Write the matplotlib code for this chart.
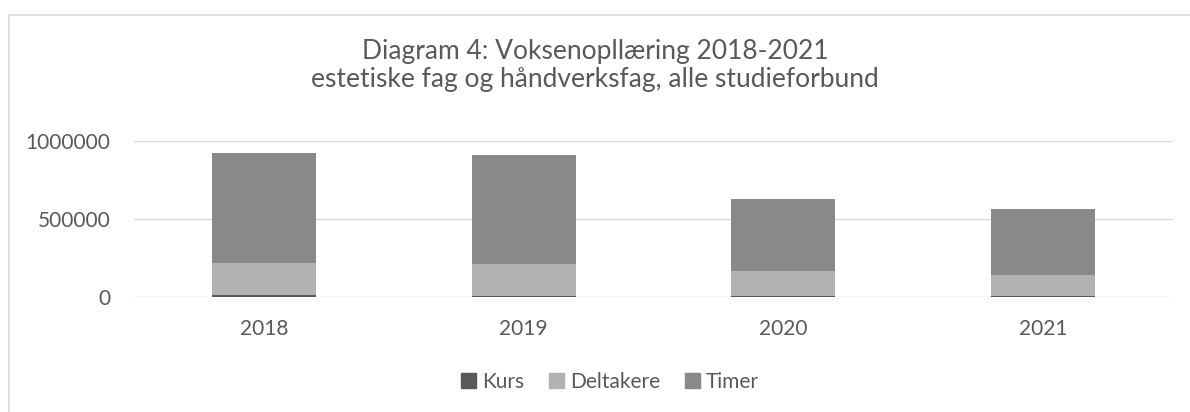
import matplotlib.pyplot as plt
from matplotlib.patches import Rectangle, Patch
import numpy as np

# data
years = ["2018", "2019", "2020", "2021"]
kurs = [10000, 9500, 7500, 6000]
deltakere = [206000, 203000, 161000, 133000]
timer = [704000, 698000, 457000, 425000]

plt.rcParams['font.family'] = ['Lato', 'DejaVu Sans']
txt = '#595959'
grid = '#d9d9d9'
c_kurs, c_delt, c_timer = '#595959', '#b2b2b2', '#898989'

fig = plt.figure(figsize=(11.9, 4.12), dpi=100)
ax = fig.add_axes([134 / 1190, 1 - 297 / 412, (1173 - 134) / 1190, (297 - 141) / 412])

x = np.arange(len(years))
w = 0.4
ax.bar(x, kurs, w, color=c_kurs, zorder=3)
ax.bar(x, deltakere, w, bottom=kurs, color=c_delt, zorder=3)
bottom2 = np.array(kurs) + np.array(deltakere)
ax.bar(x, timer, w, bottom=bottom2, color=c_timer, zorder=3)

ax.set_xlim(-0.5, 3.5)
ax.set_ylim(0, 1000000)
ax.set_yticks([0, 500000, 1000000])
ax.set_yticklabels(["0", "500000", "1000000"])
ax.set_xticks(x)
ax.set_xticklabels(years)
ax.yaxis.grid(True, color=grid, linewidth=1.0, zorder=0)
for s in ax.spines.values():
    s.set_visible(False)
ax.tick_params(axis='both', length=0, labelsize=15, colors=txt)
ax.tick_params(axis='y', pad=17)
ax.tick_params(axis='x', pad=16)

fig.text(0.5, 1 - 52 / 412, "Diagram 4: Voksenopllæring 2018-2021", ha='center', va='center',
         fontsize=19, color=txt)
fig.text(0.5, 1 - 80 / 412, "estetiske fag og håndverksfag, alle studieforbund", ha='center',
         va='center', fontsize=19, color=txt)

handles = [Patch(color=c_kurs, label="Kurs"), Patch(color=c_delt, label="Deltakere"),
           Patch(color=c_timer, label="Timer")]
fig.legend(handles=handles, loc='center', bbox_to_anchor=(610 / 1190, 1 - 382 / 412), ncol=3,
           frameon=False, fontsize=15, labelcolor=txt, handlelength=0.7, handleheight=0.7,
           handletextpad=0.3, columnspacing=1.2)

# outer chart frame
fig.patches.append(Rectangle((9 / 1190, -0.1), 1.1, 1 - 15 / 412 + 0.1, transform=fig.transFigure,
                             fill=False, edgecolor=grid, linewidth=1.2))

fig.savefig("out.png", dpi=100)
